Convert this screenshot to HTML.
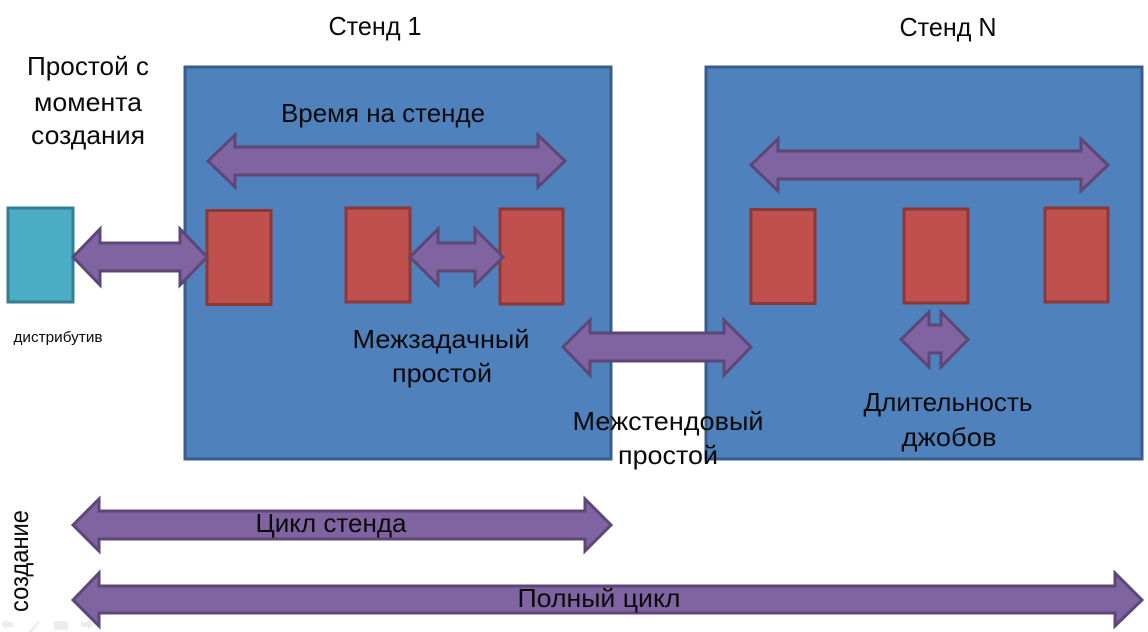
<!DOCTYPE html>
<html><head><meta charset="utf-8"><style>
html,body{margin:0;padding:0;background:#fff}
svg{display:block}
text{font-family:"Liberation Sans","DejaVu Sans",sans-serif;fill:#0a0a0a;font-size:26px;text-anchor:middle}
.a{fill:#8064a2;stroke:#5c4776;stroke-width:3;stroke-linejoin:miter}
.r{fill:#c0504d;stroke:#8c3836;stroke-width:3}
.b{fill:#4f81bd;stroke:#385d8a;stroke-width:3}
</style></head><body>
<svg width="1148" height="632" viewBox="0 0 1148 632" xmlns="http://www.w3.org/2000/svg">
<rect width="1148" height="632" fill="#fff"/>
<rect class="b" x="185" y="67" width="426" height="392"/>
<rect class="b" x="706" y="67" width="436" height="392"/>
<rect x="8" y="208" width="65" height="94" fill="#4bacc6" stroke="#357d91" stroke-width="3"/>
<rect class="r" x="207" y="210.500" width="64" height="94"/>
<rect class="r" x="346" y="208" width="64" height="94"/>
<rect class="r" x="500" y="209" width="63" height="95"/>
<rect class="r" x="751" y="209.500" width="64" height="94"/>
<rect class="r" x="904" y="209" width="64" height="94"/>
<rect class="r" x="1045" y="208" width="63" height="94"/>
<polygon class="a" points="208,161 235,135 235,147 538,147 538,135 565,161 538,187 538,175 235,175 235,187"/>
<polygon class="a" points="751,165 778,139 778,151 1081,151 1081,139 1108,165 1081,191 1081,179 778,179 778,191"/>
<polygon class="a" points="73,257 100,229 100,243 180,243 180,229 207,257 180,285 180,271 100,271 100,285"/>
<polygon class="a" points="410,257 438,229 438,243 475,243 475,229 503,257 475,285 475,271 438,271 438,285"/>
<polygon class="a" points="563,347 590,320 590,333 724,333 724,320 751,347 724,375 724,361 590,361 590,375"/>
<polygon class="a" points="901,339.500 929,312 929,325 941,325 941,312 968,339.500 941,367 941,353 929,353 929,367"/>
<polygon class="a" points="73,525 99,499 99,511 585,511 585,499 611,525 585,551 585,539 99,539 99,551"/>
<polygon class="a" points="73,600 99,573 99,586 1115,586 1115,573 1142,600 1115,626 1115,613 99,613 99,626"/>
<text x="375" y="35" textLength="93" lengthAdjust="spacingAndGlyphs">Стенд 1</text>
<text x="948" y="36" textLength="97" lengthAdjust="spacingAndGlyphs">Стенд N</text>
<text x="88" y="75" textLength="122" lengthAdjust="spacingAndGlyphs">Простой с</text>
<text x="88" y="111" textLength="108" lengthAdjust="spacingAndGlyphs">момента</text>
<text x="88" y="144" textLength="114" lengthAdjust="spacingAndGlyphs">создания</text>
<text x="383" y="122" textLength="204" lengthAdjust="spacingAndGlyphs">Время на стенде</text>
<text x="441" y="348" textLength="177" lengthAdjust="spacingAndGlyphs">Межзадачный</text>
<text x="442" y="382" textLength="100" lengthAdjust="spacingAndGlyphs">простой</text>
<text x="668" y="430" textLength="191" lengthAdjust="spacingAndGlyphs">Межстендовый</text>
<text x="668" y="464" textLength="100" lengthAdjust="spacingAndGlyphs">простой</text>
<text x="948" y="411" textLength="169" lengthAdjust="spacingAndGlyphs">Длительность</text>
<text x="949" y="446" textLength="95" lengthAdjust="spacingAndGlyphs">джобов</text>
<text x="331" y="532" textLength="151" lengthAdjust="spacingAndGlyphs">Цикл стенда</text>
<text x="599" y="607" textLength="163" lengthAdjust="spacingAndGlyphs">Полный цикл</text>
<text x="58" y="342" style="font-size:15px" textLength="89" lengthAdjust="spacingAndGlyphs">дистрибутив</text>
<text transform="translate(28,561) rotate(-90)" x="0" y="0" textLength="102" lengthAdjust="spacingAndGlyphs">создание</text>
<g opacity=".1" fill="#555">
<polygon points="1,624 7,619 7,622 13,622 13,627 7,627 7,630"/>
<polygon points="28,632 38,621 40,622 32,632"/>
<rect x="54" y="621" width="14" height="9"/>
<polygon points="94,624 88,619 88,622 81,622 81,627 88,627 88,630"/>
</g>
</svg>
</body></html>
